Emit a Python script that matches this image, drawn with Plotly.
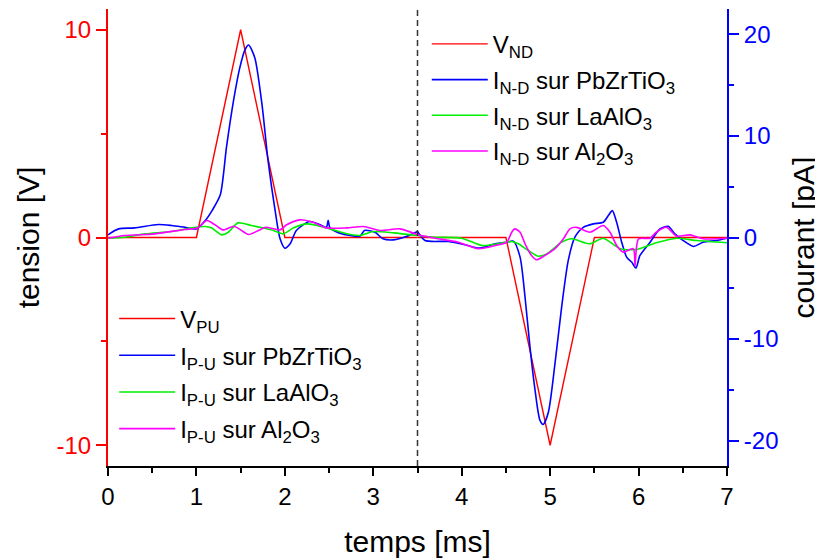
import plotly.graph_objects as go

# ---- data ----
# voltage pulses (left axis, V)
t_v_pu = [0.0, 1.0, 1.5, 2.0, 3.5]
v_pu = [0.0, 0.0, 10.0, 0.0, 0.0]
t_v_nd = [3.5, 4.5, 5.0, 5.5, 7.0]
v_nd = [0.0, 0.0, -10.0, 0.0, 0.0]

# P-U currents (right axis, pA), 0 - 3.5 ms
t_pzt_pu = [0.0, 0.12, 0.30, 0.57, 0.72, 0.87, 1.0, 1.10, 1.18, 1.27, 1.34, 1.42, 1.49, 1.55,
            1.59, 1.66, 1.74, 1.81, 1.89, 1.945, 2.0, 2.06, 2.13, 2.28, 2.40, 2.47, 2.49, 2.51,
            2.62, 2.85, 2.90, 3.02, 3.11, 3.23, 3.38, 3.5]
i_pzt_pu = [0.26, 0.85, 0.95, 1.28, 1.18, 1.0, 0.85, 1.67, 2.7, 4.2, 8.9, 13.5, 16.7, 18.5,
            18.96, 17.7, 13.2, 7.56, 2.65, -0.1, -1.05, -0.62, 0.69, 1.57, 1.25, 1.0, 1.7, 0.95,
            0.43, 0.13, 0.69, 0.52, -0.13, -0.23, 0.13, 0.6]
t_lao_pu = [0.0, 0.19, 0.42, 0.72, 0.95, 1.10, 1.17, 1.285, 1.36, 1.47, 1.62, 1.72, 1.87, 1.98,
            2.10, 2.25, 2.47, 2.70, 2.85, 3.0, 3.23, 3.5]
i_lao_pu = [-0.07, 0.03, 0.36, 0.59, 0.95, 1.08, 0.95, 0.26, 0.52, 1.44, 1.18, 1.0, 0.69, 0.36,
            0.95, 1.34, 0.95, 0.36, 0.2, 0.59, 0.46, 0.2]
t_alo_pu = [0.0, 0.19, 0.53, 0.87, 1.02, 1.116, 1.21, 1.30, 1.42, 1.47, 1.59, 1.70, 1.78, 1.945,
            2.02, 2.17, 2.32, 2.47, 2.70, 2.89, 3.08, 3.30, 3.5]
i_alo_pu = [-0.07, 0.2, 0.36, 0.79, 0.95, 1.67, 1.25, 0.75, 1.11, 0.92, 0.29, 0.69, 1.0, 0.75,
            1.25, 1.74, 1.5, 0.95, 0.95, 1.08, 0.69, 0.85, 0.26]

# N-D currents (right axis, pA), 3.5 - 7 ms
t_pzt_nd = [3.5, 3.585, 3.85, 4.04, 4.19, 4.38, 4.51, 4.584, 4.66, 4.716, 4.772, 4.829, 4.885,
            4.923, 4.98, 5.055, 5.13, 5.205, 5.28, 5.375, 5.488, 5.60, 5.658, 5.703, 5.752,
            5.809, 5.865, 5.922, 5.97, 6.016, 6.13, 6.242, 6.336, 6.41, 6.505, 6.62, 6.73,
            6.88, 7.0]
i_pzt_nd = [0.6, -0.3, -0.39, -0.72, -1.05, -0.62, -0.46, -0.36, -1.93, -5.86, -10.8, -15.0, -18.0,
            -18.4, -17.2, -12.4, -6.85, -2.26, 0.03, 1.0, 1.34, 1.5, 2.16, 2.65, 1.5,
            -0.46, -1.93, -2.42, -3.0, -1.77, -0.46, 0.85, 1.1, 0.36, -0.3, -0.88, -0.46,
            -0.3, -0.07]
t_lao_nd = [3.5, 3.70, 4.0, 4.23, 4.41, 4.565, 4.64, 4.753, 4.866, 4.98, 5.13, 5.24, 5.45, 5.60,
            5.79, 5.98, 6.20, 6.43, 6.66, 7.0]
i_lao_nd = [0.2, 0.03, -0.07, -0.79, -0.62, -0.39, -0.62, -1.28, -1.84, -1.51, -0.46, -0.13,
            -0.62, -0.07, -1.1, -1.18, -0.52, -0.07, -0.3, -0.52]
t_alo_nd = [3.5, 3.70, 3.96, 4.19, 4.38, 4.51, 4.565, 4.60, 4.66, 4.716, 4.79, 4.847, 4.94,
            5.055, 5.15, 5.224, 5.30, 5.45, 5.60, 5.677, 5.752, 5.827, 5.94, 5.96, 5.975,
            6.0, 6.13, 6.20, 6.318, 6.43, 6.58, 6.73, 7.0]
i_alo_nd = [0.26, -0.07, -0.46, -1.1, -0.79, -0.46, 0.52, 0.85, 0.52, -0.62, -1.77, -2.19, -1.77,
            -1.1, -0.13, 0.85, 1.0, 0.52, 1.18, 0.52, -0.79, -1.44, -1.1, -2.8, -1.1,
            -0.13, -0.07, 0.52, 1.0, 0.13, 0.26, -0.13, -0.07]

t_separation = 3.5

# tick labels
v_tickvals = [-10, 0, 10]
v_ticktext = ["-10", "0", "10"]
i_tickvals = [-20, -10, 0, 10, 20]
i_ticktext = ["-20", "-10", "0", "10", "20"]

RED, BLUE, GREEN, MAGENTA = "#FF0000", "#0000FF", "#00EE00", "#FF00FF"
FONT = "Liberation Sans, Arial, sans-serif"

fig = go.Figure()

def add(t, y, name, color, legend, yaxis, group, spline=True, width=1.6):
    fig.add_trace(go.Scatter(
        x=t, y=y, name=name, mode="lines", legend=legend, yaxis=yaxis, legendgroup=group,
        line=dict(color=color, width=width, shape="spline" if spline else "linear",
                  smoothing=0.7 if spline else None),
    ))

# P-U (legend2, bottom-left)
add(t_v_pu, v_pu, "V<sub>PU</sub>", RED, "legend2", "y", "pu_v", spline=False, width=1.4)
add(t_pzt_pu, i_pzt_pu, "I<sub>P-U</sub> sur PbZrTiO<sub>3</sub>", BLUE, "legend2", "y2", "pu_pzt")
add(t_lao_pu, i_lao_pu, "I<sub>P-U</sub> sur LaAlO<sub>3</sub>", GREEN, "legend2", "y2", "pu_lao")
add(t_alo_pu, i_alo_pu, "I<sub>P-U</sub> sur Al<sub>2</sub>O<sub>3</sub>", MAGENTA, "legend2", "y2", "pu_alo")
# N-D (legend, top-right)
add(t_v_nd, v_nd, "V<sub>ND</sub>", RED, "legend", "y", "nd_v", spline=False, width=1.4)
add(t_pzt_nd, i_pzt_nd, "I<sub>N-D</sub> sur PbZrTiO<sub>3</sub>", BLUE, "legend", "y2", "nd_pzt")
add(t_lao_nd, i_lao_nd, "I<sub>N-D</sub> sur LaAlO<sub>3</sub>", GREEN, "legend", "y2", "nd_lao")
add(t_alo_nd, i_alo_nd, "I<sub>N-D</sub> sur Al<sub>2</sub>O<sub>3</sub>", MAGENTA, "legend", "y2", "nd_alo")

fig.add_shape(type="line", x0=t_separation, x1=t_separation, xref="x", y0=0, y1=1, yref="paper",
              line=dict(color="#333333", width=1.5, dash="6px,4px"))

tickfont = dict(family=FONT, size=24)
titlefont = dict(family=FONT, size=30, color="black")

# the page body has an 8px margin, so the figure is 8px smaller and shifted
fig.update_layout(
    width=815, height=553,
    margin=dict(l=100, r=96, t=1, b=95, autoexpand=False),
    paper_bgcolor="white", plot_bgcolor="white",
    font=dict(family=FONT),
    xaxis=dict(range=[0, 7], dtick=1, tick0=0, ticks="outside", ticklen=8, tickwidth=1.5,
               tickcolor="black", showline=True, linecolor="black", linewidth=1.5,
               showgrid=False, zeroline=False, tickfont=dict(tickfont, color="black"),
               automargin=False,
               minor=dict(dtick=0.5, ticks="outside", ticklen=5, tickwidth=1.5, tickcolor="black"),
               title=dict(text="temps [ms]", font=titlefont, standoff=22)),
    xaxis2=dict(range=[0, 7], overlaying="x", side="top", dtick=1, tick0=0, ticks="inside",
                ticklen=8, tickwidth=1.5, tickcolor="black", showline=True, linecolor="black",
                linewidth=1.5, showgrid=False, zeroline=False, showticklabels=False,
                automargin=False,
                minor=dict(dtick=0.5, ticks="inside", ticklen=6, tickwidth=1.5, tickcolor="black")),
    yaxis=dict(range=[-11, 11], tickmode="array", tickvals=v_tickvals, ticktext=v_ticktext,
               ticks="outside", ticklen=10, tickwidth=1.5,
               tickcolor=RED, showline=True, linecolor=RED, linewidth=2, showgrid=False,
               zeroline=False, tickfont=dict(tickfont, color=RED), automargin=False,
               minor=dict(dtick=5, tick0=0, ticks="outside", ticklen=5, tickwidth=1.5, tickcolor=RED),
               title=dict(text="tension [V]", font=titlefont, standoff=8)),
    yaxis2=dict(range=[-22.5, 22.5], overlaying="y", side="right", tickmode="array",
                tickvals=i_tickvals, ticktext=i_ticktext,
                ticks="outside", ticklen=10, tickwidth=1.5, tickcolor=BLUE, showline=True,
                linecolor=BLUE, linewidth=2, showgrid=False, zeroline=False,
                tickfont=dict(tickfont, color=BLUE), automargin=False,
                minor=dict(dtick=5, tick0=0, ticks="outside", ticklen=5, tickwidth=1.5, tickcolor=BLUE),
                title=dict(text="courant [pA]", font=titlefont, standoff=16)),
    legend=dict(x=0.515, y=0.972, xanchor="left", yanchor="top", bgcolor="rgba(0,0,0,0)",
                font=dict(family=FONT, size=24, color="black"), itemwidth=56,
                tracegroupgap=1.5),
    legend2=dict(x=0.01, y=0.371, xanchor="left", yanchor="top", bgcolor="rgba(0,0,0,0)",
                 font=dict(family=FONT, size=24, color="black"), itemwidth=56,
                 tracegroupgap=2.5),
    showlegend=True,
)

fig.write_html("out.html")
